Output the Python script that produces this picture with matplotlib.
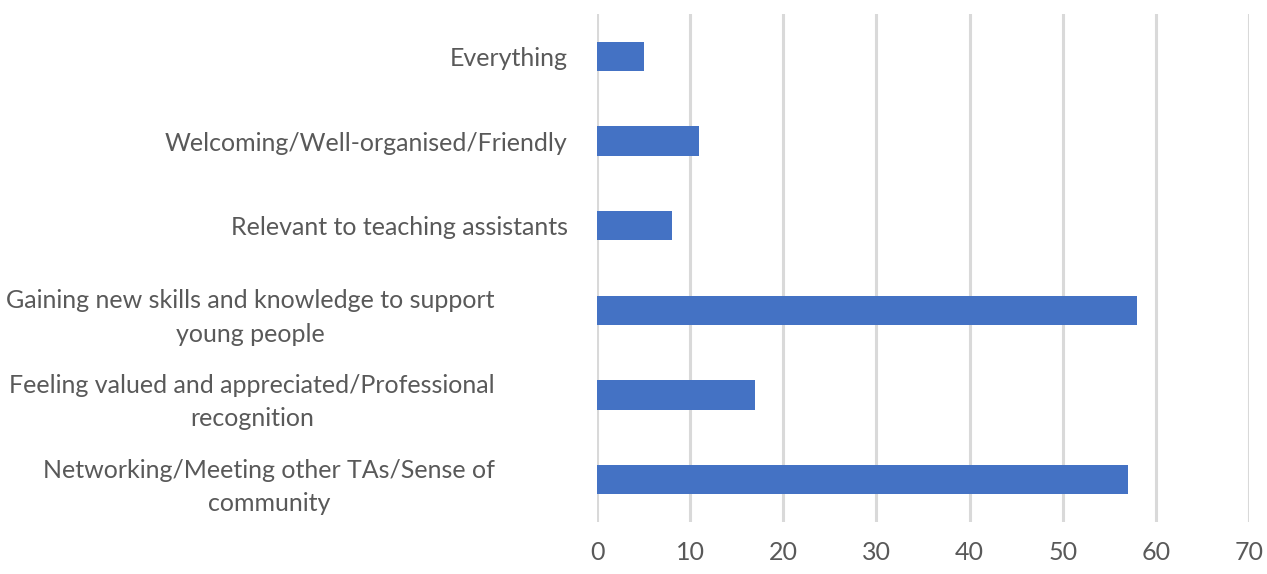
import matplotlib
matplotlib.use("Agg")
import matplotlib.pyplot as plt
from matplotlib.transforms import ScaledTranslation

# categories listed top to bottom
categories = [
    "Everything",
    "Welcoming/Well-organised/Friendly",
    "Relevant to teaching assistants",
    "Gaining new skills and knowledge to support\nyoung people",
    "Feeling valued and appreciated/Professional\nrecognition",
    "Networking/Meeting other TAs/Sense of\ncommunity",
]
values = [5, 11, 8, 58, 17, 57]
x_ticks = [0, 10, 20, 30, 40, 50, 60, 70]

plt.rcParams['font.family'] = ['Lato', 'DejaVu Sans']
text_color = '#595959'

fig = plt.figure(figsize=(12.67, 5.74), dpi=100)
ax = fig.add_axes([0.4712, 0.0906, 0.5146, 0.885])

pos = list(range(len(categories)))
ax.barh(pos, values, height=0.35, color='#4472C4', zorder=3)
ax.set_ylim(len(categories) - 0.5, -0.5)
ax.set_xlim(0, 70)
ax.set_xticks(x_ticks)
ax.set_yticks(pos)
ax.set_yticklabels(categories, ha='right', multialignment='center', linespacing=1.55)

ax.grid(axis='x', color='#d9d9d9', linewidth=2.2, zorder=0)
for s in ax.spines.values():
    s.set_visible(False)
ax.tick_params(axis='both', length=0, labelsize=18, colors=text_color)
ax.tick_params(axis='x', pad=14)
ax.tick_params(axis='y', pad=21)

# wrapped labels sit further left, like Excel does it
shift = ScaledTranslation(-0.73, 0, fig.dpi_scale_trans)
for lbl in ax.get_yticklabels():
    if "\n" in lbl.get_text():
        lbl.set_transform(lbl.get_transform() + shift)

fig.savefig("out.png", dpi=100)
